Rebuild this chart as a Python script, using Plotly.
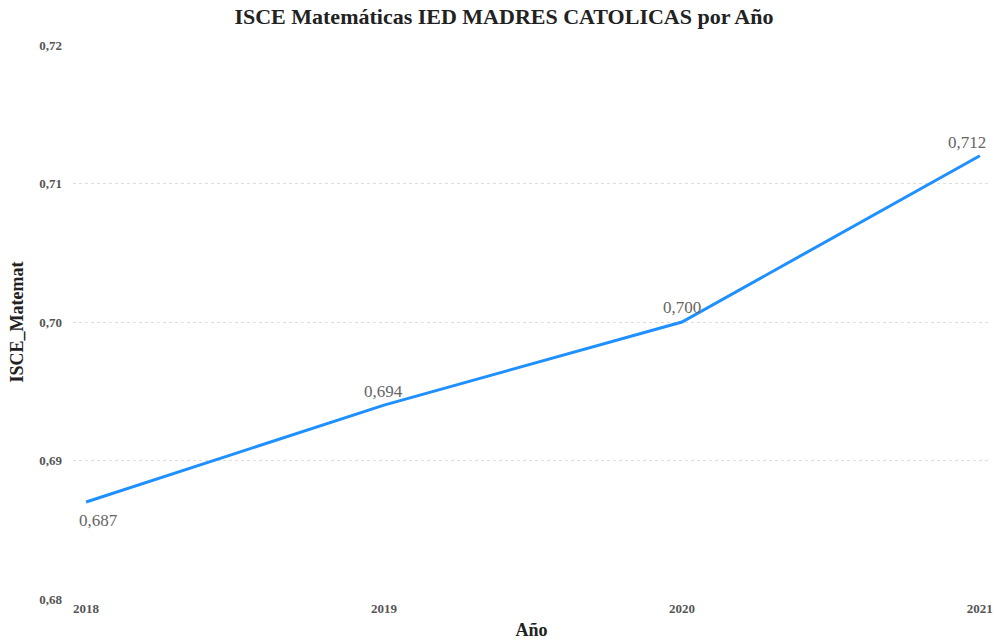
import plotly.graph_objects as go

years = [2018, 2019, 2020, 2021]
isce = [0.687, 0.694, 0.700, 0.712]
labels = [f"{v:.3f}".replace(".", ",") for v in isce]
y_ticks = [0.68, 0.69, 0.70, 0.71, 0.72]
label_dx = [12, -1, 0, -13]
label_dy = [-18, 14, 15, 13]

fig = go.Figure()
fig.add_trace(go.Scatter(
    x=years, y=isce, mode="lines",
    line=dict(color="#1E90FF", width=3),
    hoverinfo="skip",
))
for xv, yv, t, dx, dy in zip(years, isce, labels, label_dx, label_dy):
    fig.add_annotation(x=xv, y=yv, text=t, showarrow=False,
                       xanchor="center", yanchor="middle", xshift=dx, yshift=dy,
                       font=dict(family="Liberation Serif", size=17, color="#666666"))

fig.update_layout(
    width=995, height=640,
    margin=dict(l=73, r=5, t=45, b=41, autoexpand=False),
    paper_bgcolor="white", plot_bgcolor="white",
    separators=",.",
    showlegend=False,
    title=dict(text="<b>ISCE Matemáticas IED MADRES CATOLICAS por Año</b>",
               x=0.5065, xanchor="center", y=0.986, yanchor="top", automargin=False,
               font=dict(family="Liberation Serif", size=22, color="#222222")),
    xaxis=dict(
        range=[2017.956, 2021.034], tickvals=years,
        ticktext=[f"<b>{y}</b>" for y in years],
        showgrid=False, zeroline=False, showline=False, ticks="", automargin=False,
        tickfont=dict(family="Liberation Serif", size=13, color="#555555"),
        title=dict(text="<b>Año</b>", standoff=8,
                   font=dict(family="Liberation Serif", size=18, color="#222222")),
    ),
    yaxis=dict(
        range=[0.68, 0.72], tickvals=y_ticks,
        ticktext=[f"<b>{t:.2f}</b>".replace(".", ",") for t in y_ticks],
        showgrid=True, gridcolor="#dddddd", griddash="dot", gridwidth=1,
        zeroline=False, showline=False, ticks="", ticklabelstandoff=10, automargin=False,
        tickfont=dict(family="Liberation Serif", size=13, color="#555555"),
        title=dict(text="<b>ISCE_Matemat</b>", standoff=10,
                   font=dict(family="Liberation Serif", size=18, color="#222222")),
    ),
)

fig.write_html("out.html", config={"displayModeBar": False},
               post_script="document.body.style.margin='0';document.body.style.overflow='hidden';")
